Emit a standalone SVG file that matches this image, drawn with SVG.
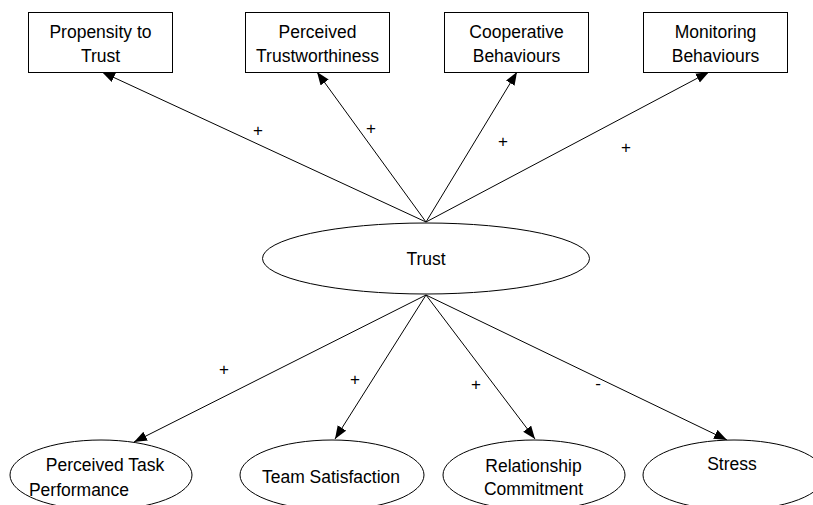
<svg xmlns="http://www.w3.org/2000/svg" width="813" height="505" viewBox="0 0 813 505">
<style>
.box{fill:#fff;stroke:#000;stroke-width:1}
.ell{fill:#fff;stroke:#000;stroke-width:1}
.edge{stroke:#000;stroke-width:1;fill:none;marker-end:url(#arr)}
text{font-family:"Liberation Sans",Arial,sans-serif;font-size:17.5px;fill:#000;text-anchor:middle}
.lbl{font-size:17px}
</style>
<defs>
<marker id="arr" markerUnits="userSpaceOnUse" markerWidth="14" markerHeight="12" refX="13" refY="5" orient="auto">
<path d="M0,0 L13,5 L0,10 Z" fill="#000"/>
</marker>
</defs>
<rect width="813" height="505" fill="#fff"/>
<g id="connectors">
<line class="edge" x1="426" y1="222" x2="102" y2="72"/>
<line class="edge" x1="426" y1="222" x2="317" y2="72"/>
<line class="edge" x1="426" y1="222" x2="517" y2="72"/>
<line class="edge" x1="426" y1="222" x2="709" y2="72"/>
<line class="edge" x1="426" y1="295" x2="134" y2="442"/>
<line class="edge" x1="426" y1="295" x2="335" y2="439"/>
<line class="edge" x1="426" y1="295" x2="535" y2="439"/>
<line class="edge" x1="426" y1="295" x2="727" y2="440"/>
<text class="lbl" x="258" y="136">+</text>
<text class="lbl" x="371" y="134">+</text>
<text class="lbl" x="503" y="147">+</text>
<text class="lbl" x="626" y="153">+</text>
<text class="lbl" x="224" y="375">+</text>
<text class="lbl" x="355" y="385">+</text>
<text class="lbl" x="476" y="390">+</text>
<text class="lbl" x="598" y="389">-</text>
</g>
<g id="propensity">
<rect class="box" x="28.5" y="12.5" width="144" height="60"/>
<text x="100.5" y="38">Propensity to</text>
<text x="100.5" y="62">Trust</text>
</g>
<g id="perceived-trustworthiness">
<rect class="box" x="245.5" y="12.5" width="144" height="60"/>
<text x="317.5" y="38">Perceived</text>
<text x="317.5" y="62">Trustworthiness</text>
</g>
<g id="cooperative">
<rect class="box" x="444.5" y="12.5" width="144" height="60"/>
<text x="516.5" y="38">Cooperative</text>
<text x="516.5" y="62">Behaviours</text>
</g>
<g id="monitoring">
<rect class="box" x="643.5" y="12.5" width="144" height="60"/>
<text x="715.5" y="38">Monitoring</text>
<text x="715.5" y="62">Behaviours</text>
</g>
<g id="trust">
<ellipse class="ell" cx="426" cy="258.5" rx="163.5" ry="35.5"/>
<text x="426" y="265">Trust</text>
</g>
<g id="task-performance">
<ellipse class="ell" cx="101" cy="475" rx="91" ry="35"/>
<text x="105" y="471">Perceived Task</text>
<text x="79" y="496">Performance</text>
</g>
<g id="team-satisfaction">
<ellipse class="ell" cx="332" cy="475" rx="92" ry="35"/>
<text x="331" y="483">Team Satisfaction</text>
</g>
<g id="relationship-commitment">
<ellipse class="ell" cx="534" cy="475" rx="91" ry="35"/>
<text x="533.5" y="472">Relationship</text>
<text x="533.5" y="495">Commitment</text>
</g>
<g id="stress">
<ellipse class="ell" cx="734" cy="475" rx="91" ry="35"/>
<text x="732" y="470">Stress</text>
</g>
</svg>
